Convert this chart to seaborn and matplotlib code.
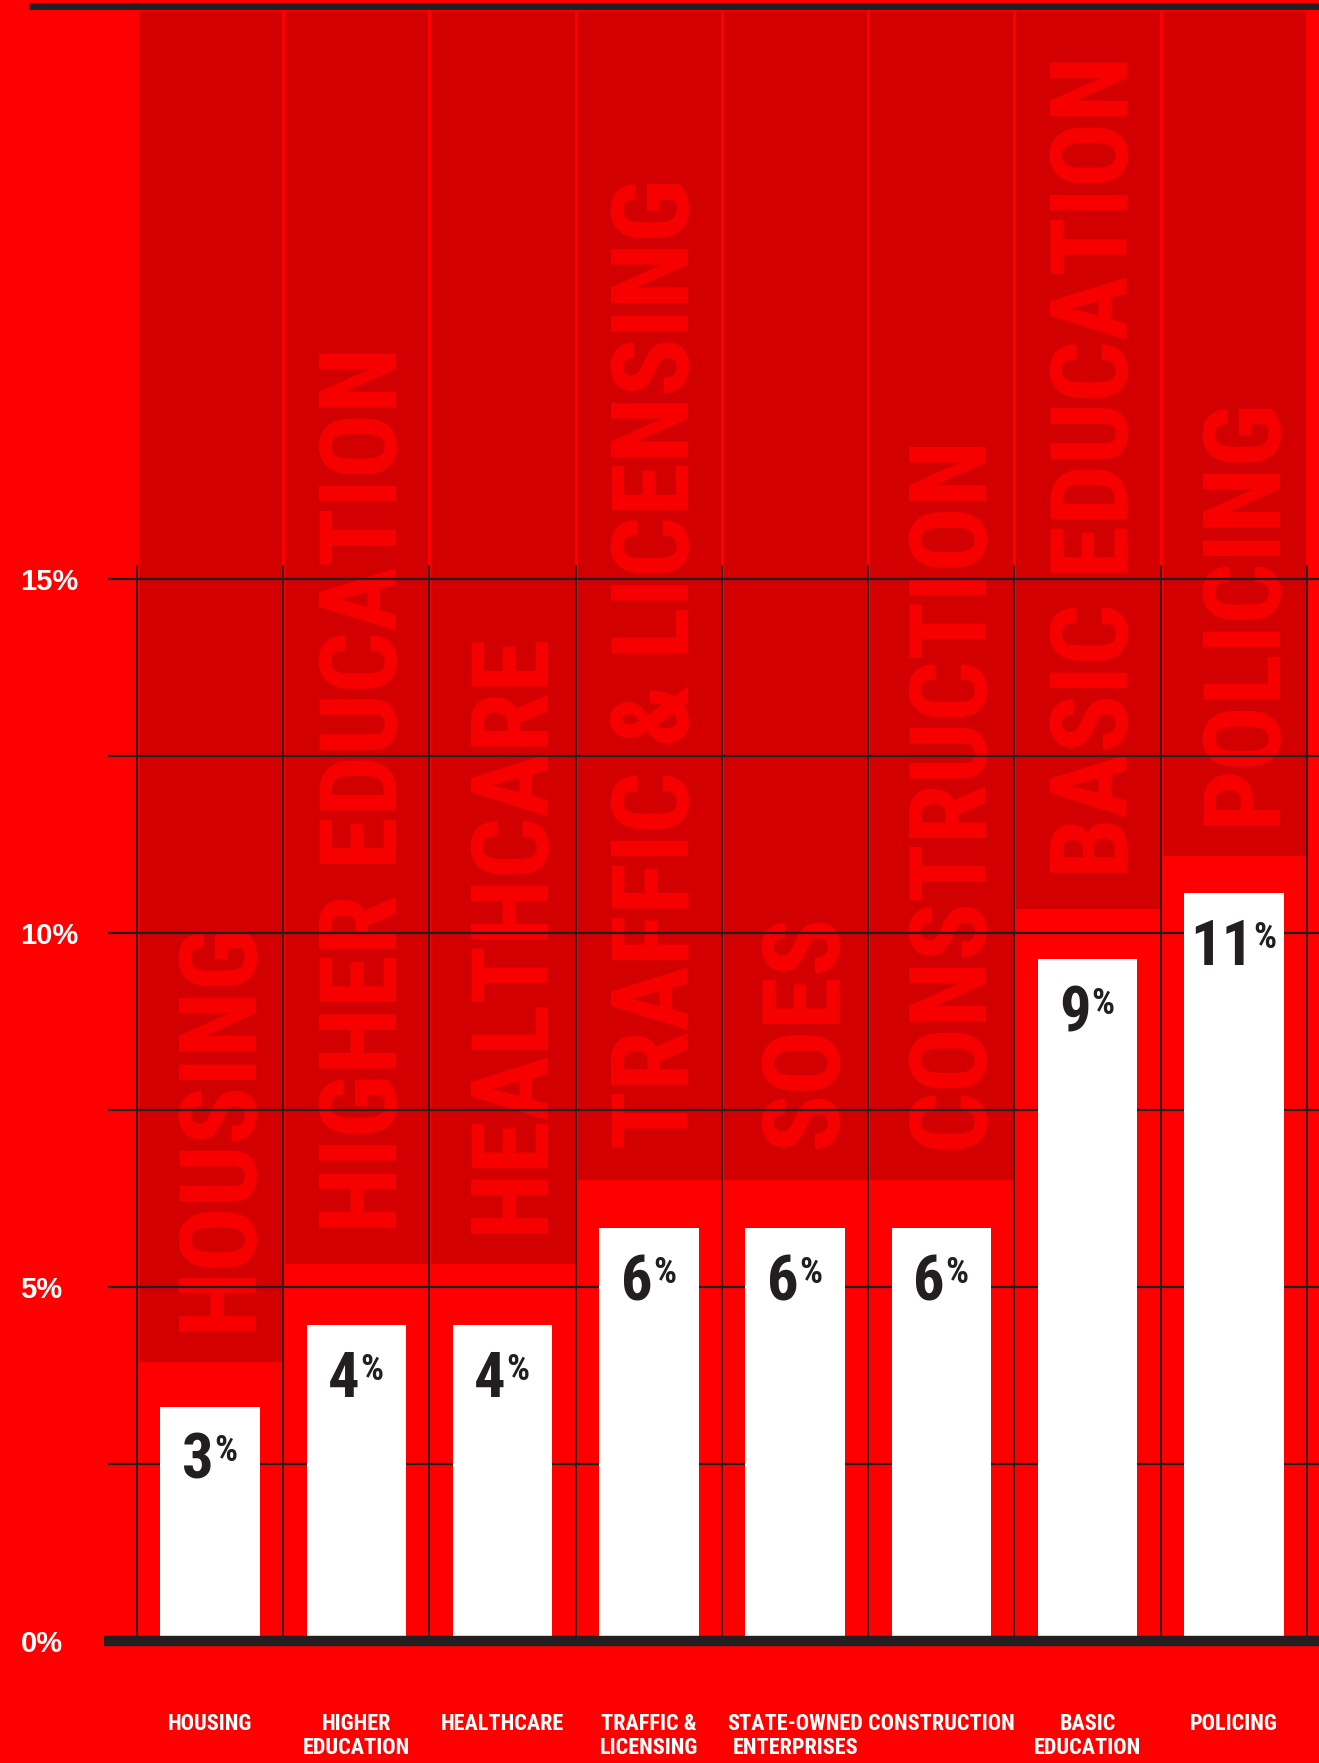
import numpy as np
import pandas as pd
import matplotlib
matplotlib.use("Agg")
import matplotlib.pyplot as plt
from matplotlib.lines import Line2D
from matplotlib import font_manager as fm
import seaborn as sns

# ---------------- data ----------------
categories = ["HOUSING", "HIGHER\nEDUCATION", "HEALTHCARE", "TRAFFIC &\nLICENSING",
              "STATE-OWNED\nENTERPRISES", "CONSTRUCTION", "BASIC\nEDUCATION", "POLICING"]
big_labels = ["HOUSING", "HIGHER EDUCATION", "HEALTHCARE", "TRAFFIC & LICENSING",
              "SOES", "CONSTRUCTION", "BASIC EDUCATION", "POLICING"]
bar_values = [3.31, 4.46, 4.46, 5.83, 5.83, 5.83, 9.63, 10.56]
value_labels = ["3", "4", "4", "6", "6", "6", "9", "11"]
shade_start = [3.93, 5.31, 5.31, 6.50, 6.50, 6.50, 10.32, 11.07]
ytick_values = [0, 2.5, 5, 7.5, 10, 12.5, 15]
ytick_labels = ["0%", "", "5%", "", "10%", "", "15%"]

# ---------------- style ----------------
RED = "#FF0000"
DARK = "#D20000"
TEXT_RED = "#F70000"
LINE = "#231F20"

sns.set_theme(style="white")
names = {f.name for f in fm.fontManager.ttflist}
COND = next((n for n in ["Roboto Condensed", "Liberation Sans Narrow", "Archivo Narrow",
                         "DejaVu Sans Condensed"] if n in names), "Liberation Sans")
plt.rcParams["font.family"] = ["Liberation Sans", "DejaVu Sans"]

W, H = 1319, 1763
fig = plt.figure(figsize=(W / 100, H / 100), dpi=100, facecolor=RED)
ax = fig.add_axes([108 / W, 122 / H, 1211 / W, (1641 - 9) / H])
ax.set_facecolor(RED)

YTOP = 23.05
df = pd.DataFrame({"category": categories, "value": bar_values})
x = np.arange(len(categories))

# shaded column backgrounds
ax.bar(x, YTOP - np.array(shade_start), bottom=shade_start, width=1.0,
       color=DARK, edgecolor=RED, linewidth=2.0, zorder=1)

# big rotated labels
for xi, lab, s in zip(x, big_labels, shade_start):
    ax.annotate(lab, xy=(xi, s), xytext=(8, 23), textcoords="offset points",
                rotation=90, ha="center", va="bottom", color=TEXT_RED,
                fontsize=78, fontweight="bold", family=COND, zorder=2,
                annotation_clip=False, clip_on=True)

# white bars
sns.barplot(data=df, x="category", y="value", color="white", saturation=1,
            width=0.68, ax=ax, zorder=4, linewidth=0)

# grid
ax.set_yticks(ytick_values)
ax.set_yticklabels(ytick_labels)
ax.yaxis.grid(True, color=LINE, linewidth=1.6)
ax.xaxis.grid(False)
ax.set_axisbelow(False)
bounds = np.arange(len(categories) + 1) - 0.5
ax.vlines(bounds, 0, 15.2, color=LINE, linewidth=1.3, zorder=2.6)

ax.set_xlim(-0.698, 7.582)
ax.set_ylim(0, YTOP)
for sp in ax.spines.values():
    sp.set_visible(False)

ax.axhline(0, xmin=-0.003, color=LINE, linewidth=7.5, zorder=6, clip_on=False,
           solid_capstyle="butt")
fig.add_artist(Line2D([29 / W, 1], [1 - 5.5 / H] * 2, color=LINE, linewidth=5,
                      solid_capstyle="butt"))

# tick labels
ax.tick_params(axis="y", length=0, pad=63, labelsize=21, labelcolor="white")
for t in ax.get_yticklabels():
    t.set_ha("left")
    t.set_fontweight("bold")
ax.tick_params(axis="x", length=0, pad=52, labelcolor="white")
ax.set_xticks(x)
ax.set_xticklabels(categories, fontsize=16, fontweight="bold", family=COND,
                   linespacing=1.1, va="top")
ax.set_xlabel("")
ax.set_ylabel("")

# value labels
for xi, v, lab in zip(x, bar_values, value_labels):
    t = ax.annotate(lab, xy=(xi, v), xytext=(-9, -18), textcoords="offset points",
                    ha="center", va="top", fontsize=45, fontweight="bold",
                    family=COND, color=LINE, zorder=7)
    ax.annotate("%", xy=(1, 1), xycoords=t, xytext=(0.5, -1), textcoords="offset points",
                ha="left", va="top", fontsize=26, fontweight="bold",
                family=COND, color=LINE, zorder=7)

fig.savefig("out.png", dpi=100, facecolor=RED)
